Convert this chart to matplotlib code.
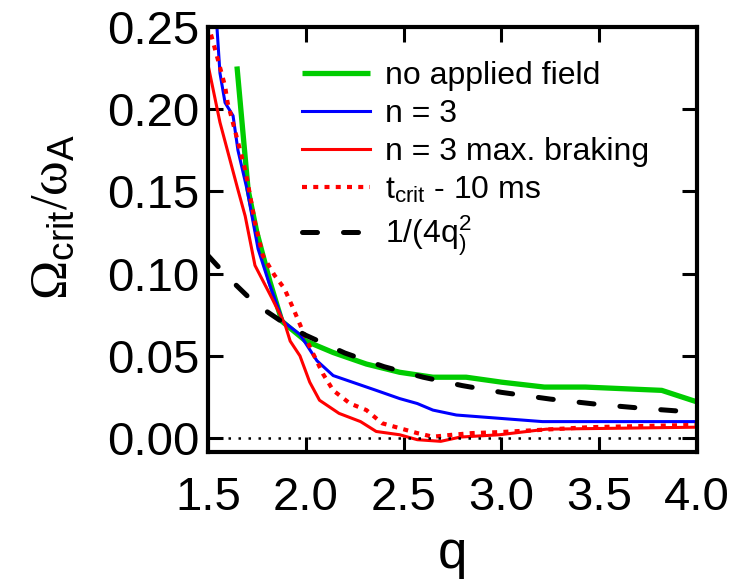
import numpy as np
import matplotlib
matplotlib.use("Agg")
import matplotlib.pyplot as plt

# Fuentes -------------------------------------------------------------------
plt.rcParams['font.family'] = ['Liberation Sans', 'DejaVu Sans']
plt.rcParams['mathtext.fontset'] = 'custom'
plt.rcParams['mathtext.rm'] = 'Liberation Serif'
plt.rcParams['mathtext.it'] = 'Liberation Serif'
plt.rcParams['mathtext.sf'] = 'Liberation Sans'

# Datos ---------------------------------------------------------------------
q_green = [1.648, 1.705, 1.75, 1.817, 1.878, 2.0, 2.14, 2.31, 2.48, 2.65, 2.82, 3.0, 3.22, 3.43, 3.82, 4.0]
v_green = [0.226, 0.151, 0.125, 0.095, 0.071, 0.059, 0.052, 0.045, 0.040, 0.037, 0.037, 0.034, 0.031, 0.031, 0.029, 0.022]

q_blue = [1.54, 1.561, 1.587, 1.628, 1.653, 1.70, 1.756, 1.81, 1.883, 1.97, 2.057, 2.14, 2.36, 2.48, 2.57, 2.65, 2.77, 2.99, 3.21, 4.0]
v_blue = [0.26, 0.222, 0.204, 0.196, 0.175, 0.151, 0.115, 0.095, 0.071, 0.063, 0.047, 0.038, 0.029, 0.024, 0.021, 0.017, 0.014, 0.012, 0.010, 0.010]

q_red = [1.5, 1.561, 1.653, 1.69, 1.74, 1.827, 1.894, 1.92, 1.97, 2.02, 2.07, 2.17, 2.28, 2.36, 2.48, 2.57, 2.69, 2.79, 2.99, 3.23, 4.0]
v_red = [0.227, 0.192, 0.151, 0.135, 0.105, 0.085, 0.069, 0.059, 0.050, 0.034, 0.023, 0.015, 0.010, 0.004, 0.002, -0.001, -0.002, 0.0006, 0.002, 0.0054, 0.0066]

q_tcrit = [1.5, 1.56, 1.587, 1.60, 1.64, 1.69, 1.705, 1.74, 1.78, 1.84, 1.89, 1.935, 2.006, 2.088, 2.14, 2.226, 2.31, 2.39, 2.48, 2.57, 2.65, 2.75, 2.85, 2.99, 3.45, 4.0]
v_tcrit = [0.252, 0.226, 0.214, 0.204, 0.186, 0.163, 0.154, 0.131, 0.111, 0.099, 0.091, 0.079, 0.059, 0.039, 0.029, 0.021, 0.017, 0.009, 0.006, 0.003, 0.0008, 0.002, 0.003, 0.0036, 0.0066, 0.008]

q_ref = [1.5, 1.6, 1.7, 1.8, 1.9, 2.0, 2.2, 2.4, 2.6, 2.8, 3.0, 3.25, 3.5, 3.75, 4.0]
v_ref = [0.111, 0.098, 0.0865, 0.077, 0.069, 0.0625, 0.0517, 0.0434, 0.037, 0.0319, 0.0278, 0.0237, 0.0204, 0.0178, 0.0156]

etiquetas = ['no applied field', 'n = 3', 'n = 3 max. braking',
             r't$_{\mathsf{crit}}$ - 10 ms', r'1/(4q$^{\mathsf{2}}_{\mathsf{)}}$']

x_ticks = [1.5, 2.0, 2.5, 3.0, 3.5, 4.0]
y_ticks = [0.00, 0.05, 0.10, 0.15, 0.20, 0.25]

# Grafico -------------------------------------------------------------------
fig = plt.figure(figsize=(7.51, 5.79), dpi=100)
ax = fig.add_axes([0.277, 0.2193, 0.651, 0.7341])

ax.plot(q_green, v_green, color='#00cc00', lw=3.8, label=etiquetas[0], solid_capstyle='butt')
ax.plot(q_blue, v_blue, color='#0000ff', lw=2.2, label=etiquetas[1])
ax.plot(q_red, v_red, color='#ff0000', lw=2.2, label=etiquetas[2])
ax.plot(q_tcrit, v_tcrit, color='#ff0000', lw=3.0, linestyle=(0, (1.2, 1.5)), label=etiquetas[3])
ax.plot(q_ref, v_ref, color='black', lw=3.6, linestyle=(0, (3, 5.2)), dash_capstyle='round', label=etiquetas[4])
ax.axhline(0, color='black', lw=1.8, linestyle=(0, (1, 3)))

ax.set_xlim(1.5, 4.0)
ax.set_ylim(-0.0085, 0.248)
ax.set_xticks(x_ticks)
ax.set_xticklabels(['%.1f' % t for t in x_ticks])
ax.set_yticks(y_ticks)
ax.set_yticklabels(['%.2f' % t for t in y_ticks])

for s in ax.spines.values():
    s.set_linewidth(3)
ax.tick_params(direction='in', length=11, width=2.2, labelsize=34,
               top=True, right=True)
ax.tick_params(axis='x', pad=17)
ax.tick_params(axis='y', pad=6)

ax.set_xlabel('q', fontsize=38)
ax.xaxis.set_label_coords(0.5, -0.18)
ax.set_ylabel(r'$\Omega_{\mathsf{crit}}/\omega_{\mathsf{A}}$', fontsize=38)
ax.yaxis.set_label_coords(-0.266, 0.553)

ax.legend(loc='upper left', bbox_to_anchor=(0.192, 0.92), frameon=False,
          fontsize=23, borderpad=0, borderaxespad=0, handlelength=2.13,
          handletextpad=0.47, labelspacing=0.25)

fig.savefig('out.png', dpi=100)
